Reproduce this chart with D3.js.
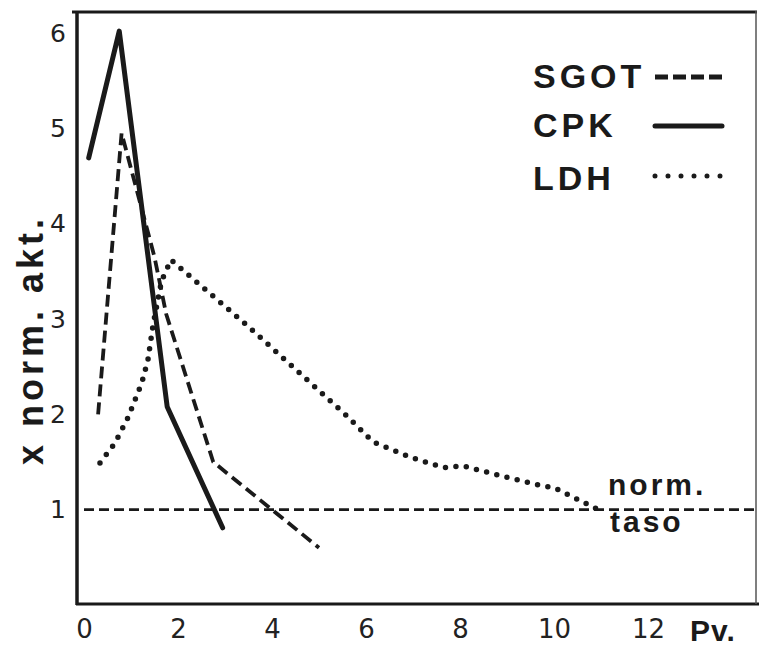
<!DOCTYPE html>
<html>
<head>
<meta charset="utf-8">
<script src="https://cdn.jsdelivr.net/npm/d3@7"></script>
<style>
  html, body { margin: 0; padding: 0; background: #fff; }
  svg { display: block; }
  text { font-family: "Liberation Sans", Arial, sans-serif; fill: #1a1a1a; }
  .tick text { font-family: "DejaVu Sans", sans-serif; font-weight: normal; }
</style>
</head>
<body>
<svg id="chart" width="759" height="649"></svg>
<script>
// ---- data ----
const xTicks = [0, 2, 4, 6, 8, 10, 12];
const yTicks = [1, 2, 3, 4, 5, 6];
const seriesNames = ["SGOT", "CPK", "LDH"];

const sgotX = [0.3, 0.8, 1.5, 1.75, 2.75, 5.0];
const sgotY = [2.0, 4.95, 3.65, 3.05, 1.5, 0.6];

const cpkX = [0.1, 0.75, 1.77, 2.95];
const cpkY = [4.69, 6.02, 2.08, 0.81];

const ldhX = [0.34, 0.66, 0.94, 1.23, 1.36, 1.47, 1.65, 1.85, 3.5, 5.6, 6.15, 6.95, 7.65, 8.05, 9.0, 9.75, 10.0, 10.95];
const ldhY = [1.49, 1.70, 1.97, 2.33, 2.57, 2.94, 3.4, 3.62, 2.92, 1.98, 1.71, 1.55, 1.44, 1.46, 1.34, 1.25, 1.23, 1.0];

const normLevel = 1;
const xLabel = "Pv.";
const yLabel = "x norm. akt.";
const normLabel1 = "norm.";
const normLabel2 = "taso";

// ---- drawing ----
const svg = d3.select("#chart");
const ink = "#1a1a1a";

const x = d3.scaleLinear().domain([0, 12]).range([84, 648]);
const y = d3.scaleLinear().domain([0, 6]).range([605, 33]);

// frame
svg.append("line").attr("x1", 72).attr("x2", 757).attr("y1", 12).attr("y2", 12)
  .attr("stroke", ink).attr("stroke-width", 3);
svg.append("line").attr("x1", 77).attr("x2", 77).attr("y1", 11).attr("y2", 605)
  .attr("stroke", ink).attr("stroke-width", 3.5);
svg.append("line").attr("x1", 76).attr("x2", 759).attr("y1", 604).attr("y2", 604)
  .attr("stroke", ink).attr("stroke-width", 3);
svg.append("line").attr("x1", 756).attr("x2", 756).attr("y1", 11).attr("y2", 604)
  .attr("stroke", "#555").attr("stroke-width", 1.5);

// axes (labels only)
const xAxis = svg.append("g").attr("transform", "translate(0,605)")
  .call(d3.axisBottom(x).tickValues(xTicks).tickSize(0).tickPadding(15).tickFormat(d3.format("d")));
xAxis.select(".domain").remove();
xAxis.attr("font-size", null).attr("font-family", null);
xAxis.selectAll("text").style("font-size", "26px").style("fill", "#222");

const yAxis = svg.append("g").attr("transform", "translate(81,0)")
  .call(d3.axisLeft(y).tickValues(yTicks).tickSize(0).tickPadding(15).tickFormat(d3.format("d")));
yAxis.select(".domain").remove();
yAxis.attr("font-size", null).attr("font-family", null);
yAxis.selectAll("text").style("font-size", "25px").style("fill", "#222");

// axis titles
svg.append("text").attr("x", 690).attr("y", 641)
  .style("font-size", "30px").style("font-weight", "bold").style("letter-spacing", "1px")
  .text(xLabel);
svg.append("text").attr("transform", "translate(43,340) rotate(-90)")
  .attr("text-anchor", "middle")
  .style("font-size", "36px").style("font-weight", "bold").style("letter-spacing", "4px")
  .text(yLabel);

// norm line
svg.append("line").attr("x1", x(0)).attr("x2", 759).attr("y1", y(normLevel)).attr("y2", y(normLevel))
  .attr("stroke", ink).attr("stroke-width", 2.6).attr("stroke-dasharray", "10,5");
svg.append("text").attr("x", 608).attr("y", 495)
  .style("font-size", "30px").style("font-weight", "bold").style("letter-spacing", "3px")
  .text(normLabel1);
svg.append("text").attr("x", 610).attr("y", 532)
  .style("font-size", "30px").style("font-weight", "bold").style("letter-spacing", "3px")
  .text(normLabel2);

const line = d3.line().x(d => x(d[0])).y(d => y(d[1]));
const zip = (xs, ys) => xs.map((v, i) => [v, ys[i]]);

const styles = {
  SGOT: { dash: "12,6", width: 3.8, cap: "butt" },
  CPK:  { dash: null, width: 5, cap: "round" },
  LDH:  { dash: "0,10.5", width: 5.5, cap: "round" }
};
const seriesData = {
  SGOT: zip(sgotX, sgotY),
  CPK: zip(cpkX, cpkY),
  LDH: zip(ldhX, ldhY)
};

seriesNames.forEach(name => {
  const s = styles[name];
  const p = svg.append("path").datum(seriesData[name])
    .attr("d", line).attr("fill", "none").attr("stroke", ink)
    .attr("stroke-width", s.width).attr("stroke-linecap", s.cap)
    .attr("stroke-linejoin", "round");
  if (s.dash) p.attr("stroke-dasharray", s.dash);
});

// legend
const legendY = [77, 126, 176];
const legendTextY = [88, 137, 190];
seriesNames.forEach((name, i) => {
  const s = styles[name];
  svg.append("text").attr("x", 533).attr("y", legendTextY[i])
    .style("font-size", "34px").style("font-weight", "bold").style("letter-spacing", "4px")
    .text(name);
  const l = svg.append("line").attr("x1", 655).attr("x2", 722)
    .attr("y1", legendY[i]).attr("y2", legendY[i])
    .attr("stroke", ink).attr("stroke-width", 5).attr("stroke-linecap", s.cap);
  if (s.dash) l.attr("stroke-dasharray", name === "LDH" ? "0,13" : "13,5");
});
</script>
</body>
</html>
